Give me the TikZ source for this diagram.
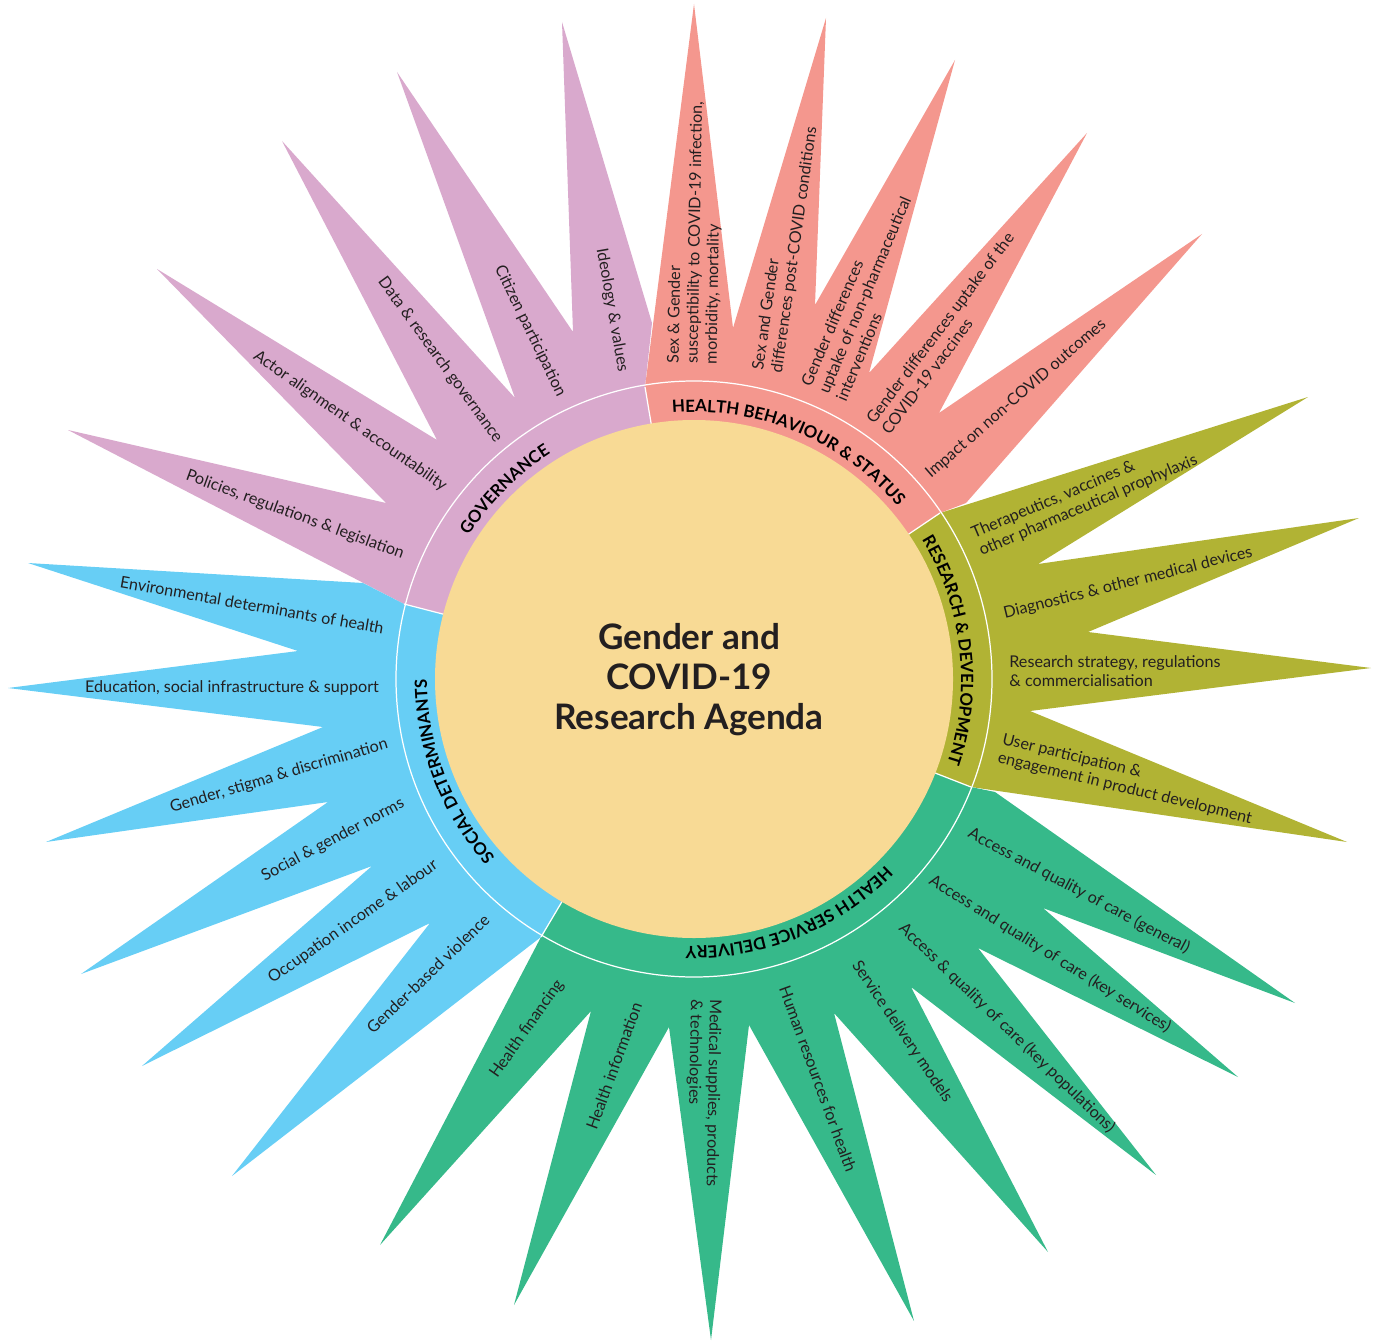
\documentclass[tikz,border=0pt]{standalone}
\usepackage{fontspec}
\setmainfont{Lato}
\usetikzlibrary{decorations.text}

\definecolor{gov}{HTML}{D9A9CD}
\definecolor{hbs}{HTML}{F4978E}
\definecolor{rnd}{HTML}{B1B334}
\definecolor{hsd}{HTML}{36B98A}
\definecolor{sdh}{HTML}{67CEF5}
\definecolor{sun}{HTML}{F8DA95}
\definecolor{ink}{HTML}{231F20}
\newcommand\ringfont{\fontsize{9.6}{11}\selectfont\bfseries}

\tikzset{
  lbl/.style={font=\fontsize{9.2}{10.8}\selectfont, text=ink, inner sep=0pt},
  lblm/.style={lbl, align=left, anchor=west},
  ringtext/.style={decorate, decoration={text along path, text align=center, text={|\ringfont|#1}}}
}

\begin{document}
\begin{tikzpicture}[x=0.02cm, y=-0.02cm]
\useasboundingbox (0,0) rectangle (1378,1341);

\coordinate (C) at (694,679);
\coordinate (gs) at (404,604);
\coordinate (gh) at (645,387);
\coordinate (hr) at (940,513);
\coordinate (rd) at (971,787);
\coordinate (ds) at (541,937);

\fill[gov] (C) -- (gs) -- (68,430) -- (386,503) -- (157,269) -- (437,440) -- (282,141) -- (515,398) -- (397,72) -- (573,332) -- (562,22) -- (652,323) -- (gh) -- cycle;
\fill[hbs] (C) -- (gh) -- (694,4) -- (733,328) -- (826,18) -- (815,305) -- (955,60) -- (869,373) -- (1087,133) -- (939,413) -- (1202,234) -- (966,503) -- (hr) -- cycle;
\fill[rnd] (C) -- (hr) -- (1308,397) -- (1038,564) -- (1359,518) -- (1088,632) -- (1371,668) -- (1030,711) -- (1347,842) -- (rd) -- cycle;
\fill[hsd] (C) -- (rd) -- (995,792) -- (1295,1003) -- (1043,908) -- (1238,1077) -- (978,948) -- (1156,1175) -- (911,987) -- (1048,1252) -- (834,1013) -- (914,1321) -- (749,1025) -- (711,1340) -- (669,1027) -- (514,1305) -- (591,1011) -- (380,1245) -- (ds) -- cycle;
\fill[sdh] (C) -- (ds) -- (232,1176) -- (430,923) -- (142,1066) -- (372,866) -- (81,974) -- (328,802) -- (46,842) -- (323,727) -- (8,688) -- (298,651) -- (28,563) -- (363,583) -- (gs) -- cycle;

\foreach \p in {gs,gh,hr,rd,ds}
  \draw[white, line width=0.7pt] (C) -- (\p);
\draw[white, line width=0.7pt] (C) circle[radius=298];
\fill[sun] (C) circle[radius=259];

\node[font=\fontsize{20}{22.8}\selectfont\bfseries, text=ink, align=center] (title) at (689,680) {Gender and\\COVID-19\\Research Agenda};

\begin{scope}[y=0.02cm, shift={(C)}]
\path[ringtext={GOVERNANCE}] (195:267) arc[start angle=195, end angle=75, radius=267];
\path[ringtext={HEALTH BEHAVIOUR {\&} STATUS}] (127.5:267) arc[start angle=127.5, end angle=7.5, radius=267];
\path[ringtext={RESEARCH {\&} DEVELOPMENT}] (66.5:267) arc[start angle=66.5, end angle=-53.5, radius=267];
\path[ringtext={HEALTH SERVICE DELIVERY}] (-8:267) arc[start angle=-8, end angle=-128, radius=267];
\path[ringtext={SOCIAL DETERMINANTS}] (261:267) arc[start angle=261, end angle=141, radius=267];
\end{scope}

\node[lbl, rotate=-20] (pol) at (295,515) {Policies, regulations \& legislation};
\node[lbl, rotate=-35] (act) at (350,421) {Actor alignment \& accountability};
\node[lbl, rotate=-54] (dat) at (440,360) {Data \& research governance};
\node[lbl, rotate=-64] (cit) at (530,331) {Citizen participation};
\node[lbl, rotate=-80] (ide) at (612,310) {Ideology \& values};

\node[lblm, rotate=89] (sus) at (693,364) {Sex \& Gender\\susceptibility to COVID-19 infection,\\morbidity, mortality};
\node[lblm, rotate=82] (pco) at (768,372) {Sex and Gender\\differences post-COVID conditions};
\node[lblm, rotate=67] (npi) at (823,393) {Gender differences\\uptake of non-pharmaceutical\\interventions};
\node[lblm, rotate=53] (vac) at (877,427) {Gender differences uptake of the\\COVID-19 vaccines};
\node[lbl, rotate=41] (imp) at (1016,399) {Impact on non-COVID outcomes};

\node[lblm, rotate=23] (ther) at (976,543) {Therapeutics, vaccines \&\\other pharmaceutical prophylaxis};
\node[lbl, rotate=14] (diag) at (1128,583) {Diagnostics \& other medical devices};
\node[lblm] (strat) at (1009,671) {Research strategy, regulations\\\& commercialisation};
\node[lblm, rotate=-13.5] (user) at (1000,749) {User participation \&\\engagement in product development};

\node[lbl, rotate=-28] (gen) at (1079,891) {Access and quality of care (general)};
\node[lbl, rotate=-32] (ksv) at (1050,954) {Access and quality of care (key services)};
\node[lbl, rotate=-44] (kpop) at (1007,1028) {Access \& quality of care (key populations)};
\node[lbl, rotate=-56] (sdm) at (902,1032) {Service delivery models};
\node[lbl, rotate=-70] (hrh) at (818,1079) {Human resources for health};
\node[lblm, rotate=-91] (med) at (705,999) {Medical supplies, products\\\& technologies};
\node[lbl, rotate=70] (hinf) at (614,1066) {Health information};
\node[lbl, rotate=55] (hfin) at (527,1029) {Health financing};

\node[lbl, rotate=44] (gbv) at (428,974) {Gender-based violence};
\node[lbl, rotate=35] (occ) at (353,922) {Occupation income \& labour};
\node[lbl, rotate=28] (norm) at (333,840) {Social \& gender norms};
\node[lbl, rotate=16.5] (stig) at (279,776) {Gender, stigma \& discrimination};
\node[lbl] (edu) at (232,688) {Education, social infrastructure \& support};
\node[lbl, rotate=-10] (env) at (252,605) {Environmental determinants of health};

\end{tikzpicture}
\end{document}
